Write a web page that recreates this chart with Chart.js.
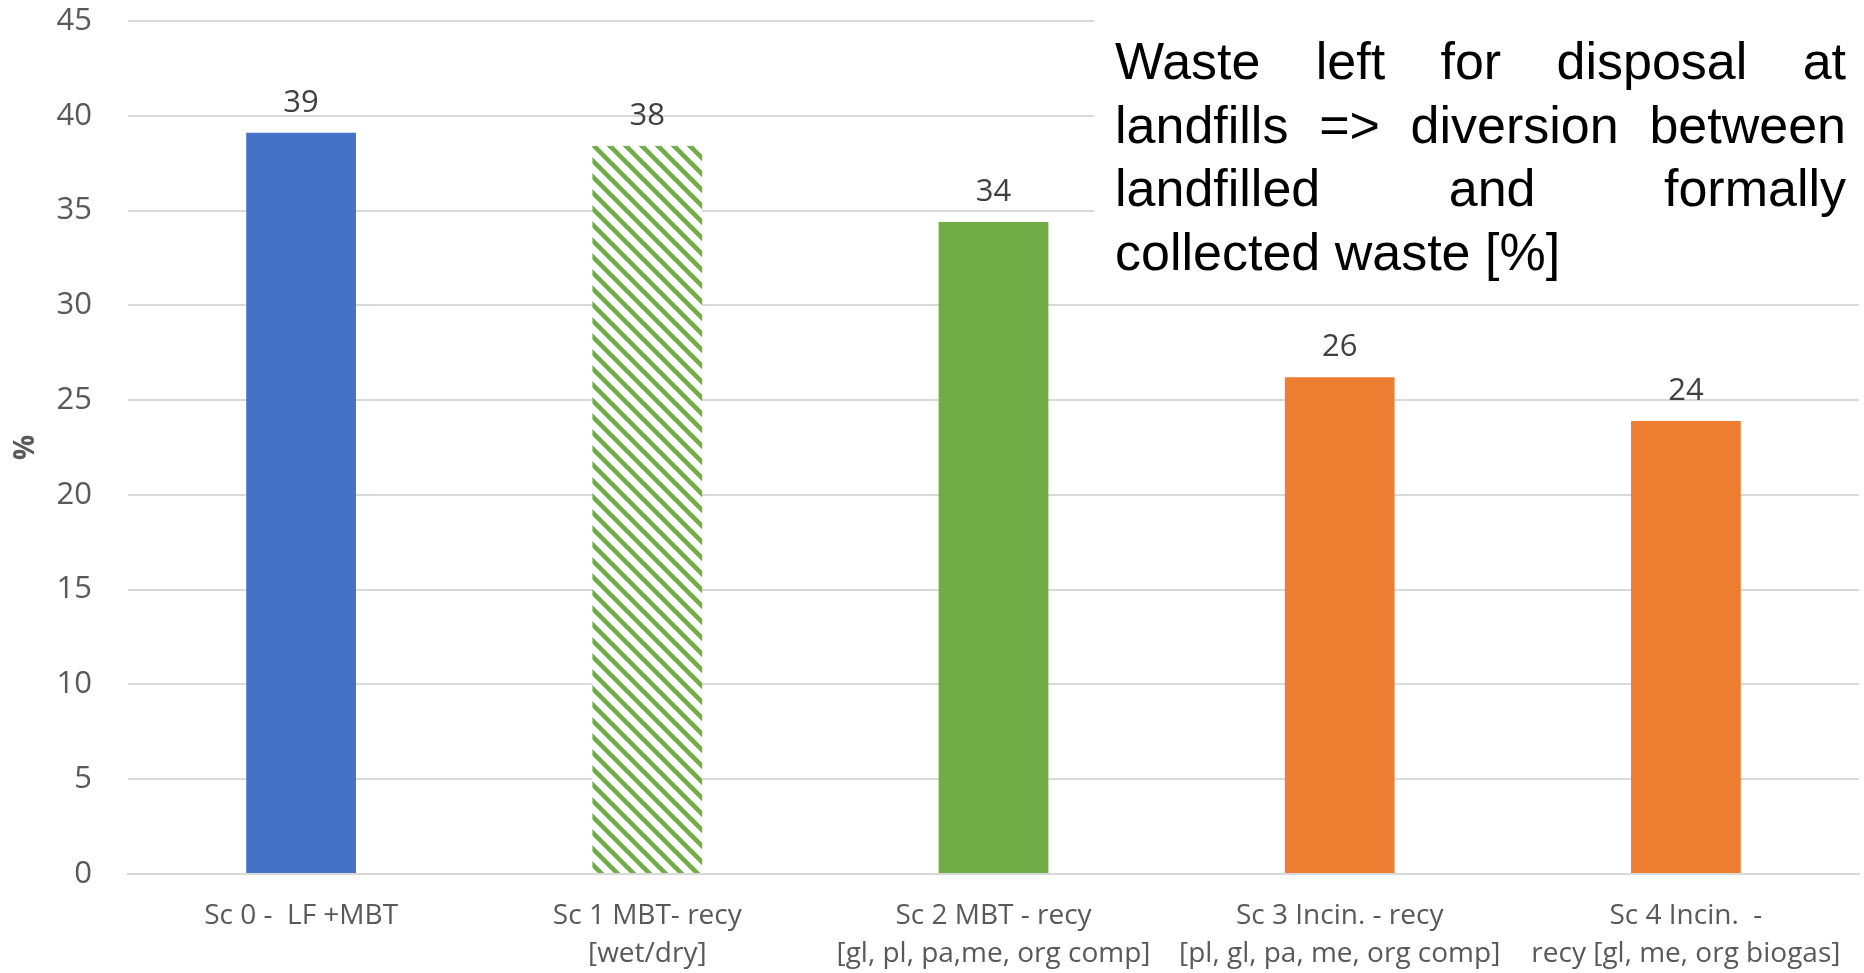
<!DOCTYPE html>
<html>
<head>
<meta charset="utf-8">
<title>Waste left for disposal at landfills</title>
<script src="https://cdn.jsdelivr.net/npm/chart.js@4.4.1/dist/chart.umd.min.js"></script>
<style>
  html, body { margin: 0; padding: 0; background: #ffffff; }
  #wrap { width: 1864px; height: 973px; }
</style>
</head>
<body>
<div id="wrap"><canvas id="chart" width="1864" height="973"></canvas></div>
<script>
// Scenario labels (two lines where the category name wraps)
const categories = [
  ["Sc 0 -  LF +MBT"],
  ["Sc 1 MBT- recy", "[wet/dry]"],
  ["Sc 2 MBT - recy", "[gl, pl, pa,me, org comp]"],
  ["Sc 3 Incin. - recy", "[pl, gl, pa, me, org comp]"],
  ["Sc 4 Incin.  -", "recy [gl, me, org biogas]"]
];

// Share of waste left for landfill disposal, per scenario [%]
const landfillShare = [39.1, 38.4, 34.4, 26.2, 23.9];

// Value axis range and step
const axisMin = 0;
const axisMax = 45;
const axisStep = 5;

// Heading text block, one entry per line
const headingLines = [
  "Waste left for disposal at",
  "landfills => diversion between",
  "landfilled and formally",
  "collected waste [%]"
];

// Diagonal green hatching used for the wet/dry scenario
function makeHatch() {
  const c = document.createElement('canvas');
  c.width = 16; c.height = 16;
  const g = c.getContext('2d');
  g.fillStyle = '#ffffff';
  g.fillRect(0, 0, 16, 16);
  g.strokeStyle = '#70AD47';
  g.lineWidth = 4.6;
  for (const x0 of [-16, 0, 16]) {
    g.beginPath();
    g.moveTo(x0 - 4, -4);
    g.lineTo(x0 + 20, 20);
    g.stroke();
  }
  return g.createPattern(c, 'repeat');
}

const barFills = ['#4472C4', makeHatch(), '#70AD47', '#ED7D31', '#ED7D31'];

// Rounded value printed above each bar
const valueLabels = {
  id: 'valueLabels',
  afterDatasetsDraw(chart) {
    const ctx = chart.ctx;
    const meta = chart.getDatasetMeta(0);
    const data = chart.data.datasets[0].data;
    ctx.save();
    ctx.font = '31px "Open Sans"';
    ctx.fillStyle = '#404040';
    ctx.textAlign = 'center';
    ctx.textBaseline = 'alphabetic';
    meta.data.forEach((bar, i) => {
      ctx.fillText(Math.round(data[i]).toString(), bar.x, bar.y - 21);
    });
    ctx.restore();
  }
};

// Justified heading in a white box at the upper right
const headingBox = {
  id: 'headingBox',
  afterDraw(chart) {
    const ctx = chart.ctx;
    const left = 1115, right = 1846;
    const firstBaseline = 79, lineStep = 63.5;
    ctx.save();
    ctx.fillStyle = '#ffffff';
    ctx.fillRect(1094, 0, chart.width - 1094, 290);
    ctx.font = '52px "Liberation Sans", Arial, sans-serif';
    ctx.fillStyle = '#000000';
    ctx.textBaseline = 'alphabetic';
    ctx.textAlign = 'left';
    headingLines.forEach((line, i) => {
      const y = firstBaseline + i * lineStep;
      const words = line.split(' ');
      if (i === headingLines.length - 1 || words.length < 2) {
        ctx.fillText(line, left, y);
        return;
      }
      const widths = words.map(w => ctx.measureText(w).width);
      const total = widths.reduce((a, b) => a + b, 0);
      const gap = (right - left - total) / (words.length - 1);
      let x = left;
      words.forEach((w, k) => {
        ctx.fillText(w, x, y);
        x += widths[k] + gap;
      });
    });
    ctx.restore();
  }
};

new Chart(document.getElementById('chart'), {
  type: 'bar',
  data: {
    labels: categories,
    datasets: [{
      data: landfillShare,
      backgroundColor: barFills,
      borderWidth: 0,
      categoryPercentage: 1.0,
      barPercentage: 0.317
    }]
  },
  options: {
    responsive: false,
    devicePixelRatio: 1,
    animation: false,
    layout: { padding: { top: 21, right: 5, left: 0, bottom: 0 } },
    plugins: {
      legend: { display: false },
      tooltip: { enabled: false },
      title: { display: false }
    },
    scales: {
      x: {
        grid: { display: false, drawTicks: false },
        border: { display: true, color: '#D9D9D9', width: 2 },
        ticks: {
          color: '#595959',
          font: { family: '"Open Sans"', size: 28, lineHeight: 1.357 },
          padding: 23,
          maxRotation: 0,
          autoSkip: false
        },
        afterFit(scale) { scale.height = 99; }
      },
      y: {
        min: axisMin,
        max: axisMax,
        grid: {
          color: '#D9D9D9',
          lineWidth: 2,
          drawTicks: true,
          tickLength: 36,
          tickColor: 'rgba(0,0,0,0)'
        },
        border: { display: false },
        ticks: {
          stepSize: axisStep,
          color: '#595959',
          font: { family: '"Open Sans"', size: 31 },
          padding: 0
        },
        title: {
          display: true,
          text: '%',
          color: '#595959',
          font: { family: '"Open Sans"', size: 28, weight: 'bold' },
          padding: { top: 9, bottom: 0 }
        },
        afterFit(scale) { scale.width = 128; }
      }
    }
  },
  plugins: [valueLabels, headingBox]
});
</script>
</body>
</html>
